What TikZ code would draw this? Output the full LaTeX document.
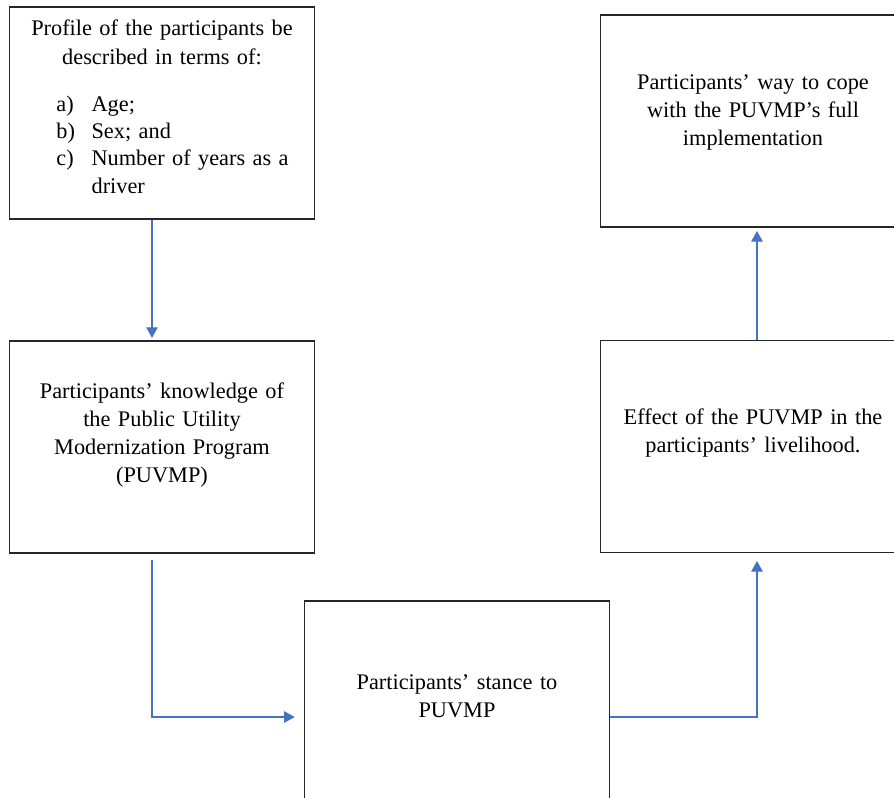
\documentclass[tikz,border=0pt]{standalone}
\usepackage{fontspec}
\setmainfont{Liberation Serif}
\usepackage{tikz}
\usetikzlibrary{arrows.meta}
\definecolor{flowblue}{RGB}{68,114,196}
\begin{document}
\begin{tikzpicture}[x=0.02cm,y=-0.02cm]
		\clip (0,0) rectangle (894,798);
		\begin{scope}[every node/.style={rectangle,draw=black!85,line width=0.6pt,
				inner sep=0pt,minimum width=6.12cm,minimum height=4.24cm,
				text width=6.12cm,align=center,
				font=\fontsize{12.7}{16}\selectfont}]
			\node (profile) at (162,113) {Profile of the participants be\\
				described in terms of:\par\vspace{11.5pt}
				{\raggedright\fontsize{12.7}{15.5}\selectfont
				\hspace*{27pt}\makebox[20pt][l]{a)}Age;\\
				\hspace*{27pt}\makebox[20pt][l]{b)}Sex; and\\
				\hspace*{27pt}\makebox[20pt][l]{c)}Number of years as a\\
				\hspace*{47pt}driver\par}\kern 7pt};
			\node (cope) at (753,121) {Participants’ way to cope\\
				with the PUVMP’s full\\implementation\par\kern 10pt};
			\node (knowledge) at (162,447) {Participants’ knowledge of\\
				the Public Utility\\Modernization Program\\(PUVMP)\par\kern 14pt};
			\node (effect) at (753,446.5) {Effect of the PUVMP in the\\
				participants’ livelihood.\par\kern 15pt};
			\node (stance) at (457,707) {Participants’ stance to\\PUVMP\par\kern 12.5pt};
		\end{scope}
		
		\begin{scope}[>={Triangle[width=6.5pt,length=6pt]},
					  every edge/.style={draw=flowblue,line width=0.6pt}]
			\path [->] ([xshift=-0.2cm]profile.south) edge [shorten >=1.5pt]
				([xshift=-0.2cm]knowledge.north);
			\path [->] ([xshift=-0.2cm,yshift=-0.12cm]knowledge.south) edge
				[to path={|- (\tikztotarget)}, shorten >=5pt]
				([yshift=-0.2cm]stance.west);
			\path [->] ([yshift=-0.2cm]stance.east) edge
				[to path={-| (\tikztotarget)}]
				([xshift=0.08cm,yshift=-0.16cm]effect.south);
			\path [->] ([xshift=0.08cm]effect.north) edge [shorten >=2pt]
				([xshift=0.08cm]cope.south);
		\end{scope}
\end{tikzpicture}
\end{document}
